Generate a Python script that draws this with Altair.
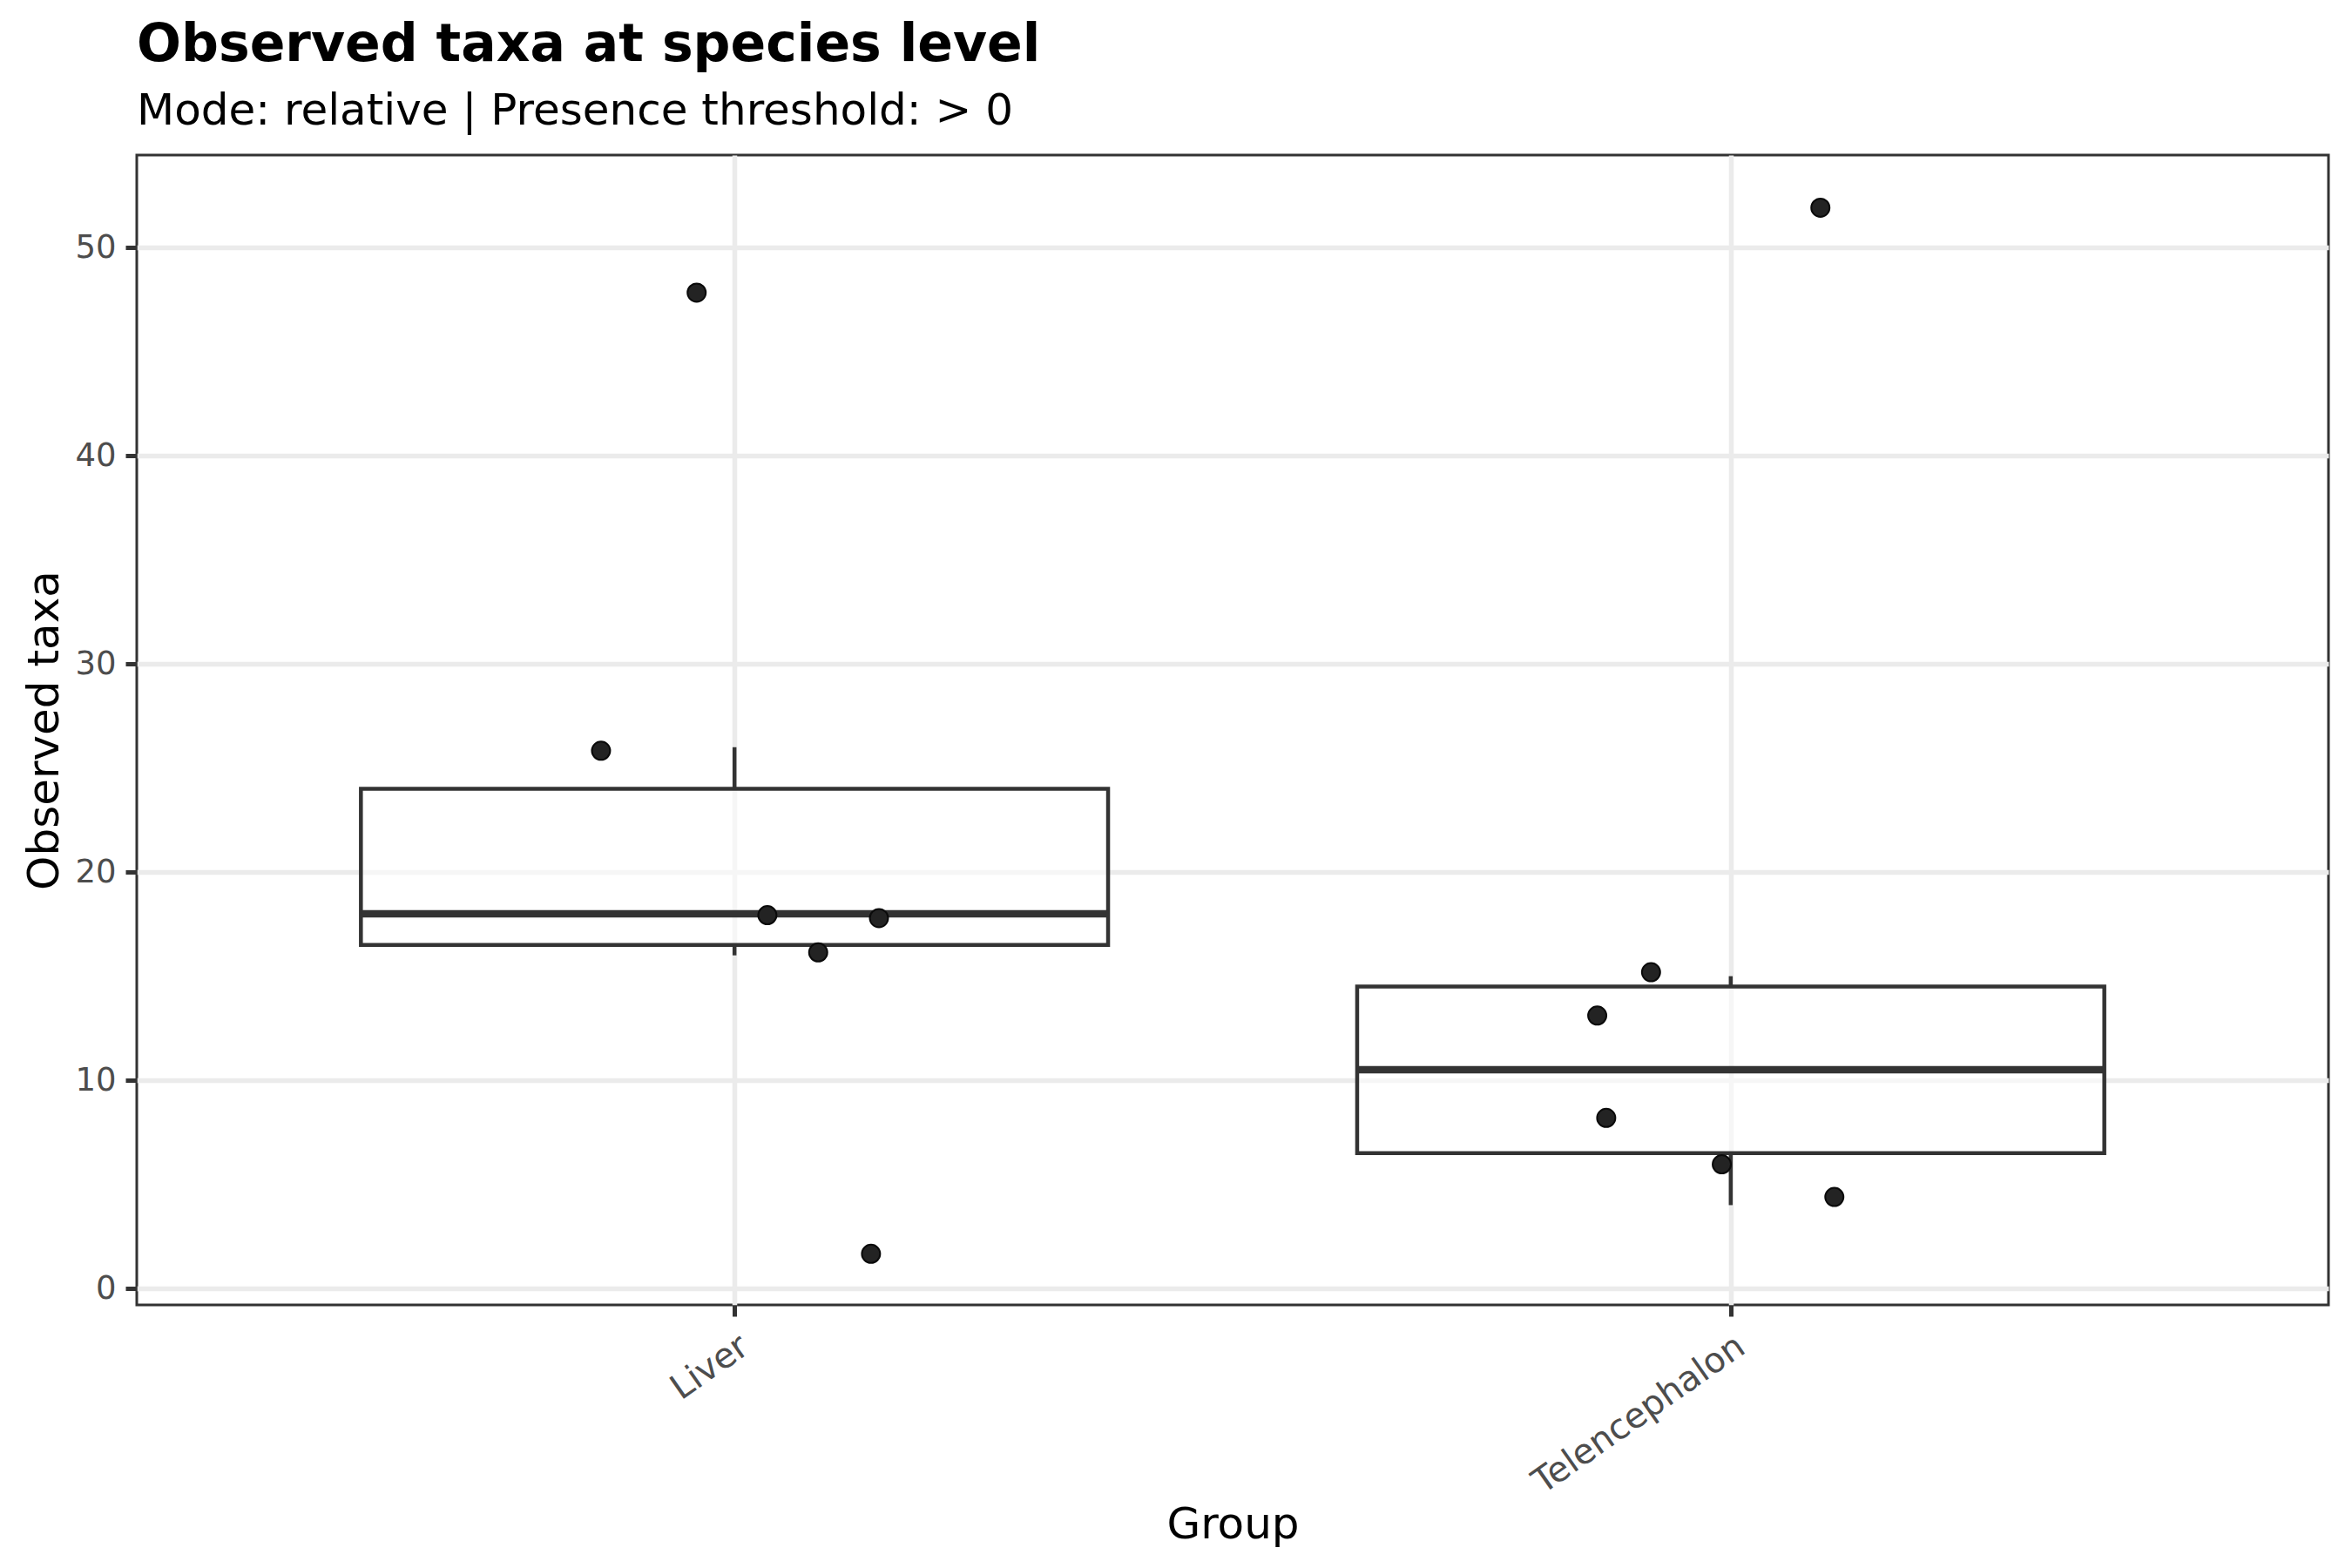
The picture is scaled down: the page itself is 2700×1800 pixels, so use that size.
import altair as alt
import numpy as np
import pandas as pd

# ---- data ----
groups = ["Liver", "Telencephalon"]
liver_obs = [48, 26, 18, 18, 16, 2]
tel_obs = [52, 15, 13, 8, 6, 4]
# jitter (x in category units, y in data units)
liver_jx = [-0.038, -0.134, 0.033, 0.145, 0.084, 0.137]
liver_jy = [-0.16, -0.17, -0.07, -0.21, 0.14, -0.34]
tel_jx = [0.090, -0.080, -0.134, -0.125, -0.009, 0.104]
tel_jy = [-0.08, 0.19, 0.11, 0.19, -0.04, 0.39]
y_ticks = [0, 10, 20, 30, 40, 50]

FONT = "DejaVu Sans"
W, H = 2516, 1320

obs = {"Liver": liver_obs, "Telencephalon": tel_obs}
jx = {"Liver": liver_jx, "Telencephalon": tel_jx}
jy = {"Liver": liver_jy, "Telencephalon": tel_jy}

pts_rows = []
box_rows = []
for i, g in enumerate(groups, start=1):
    v = np.array(obs[g], dtype=float)
    for val, dx, dy in zip(obs[g], jx[g], jy[g]):
        pts_rows.append({"group": g, "idx": i, "obs": val, "jx": dx, "jy": dy})
    q1, med, q3 = np.percentile(v, [25, 50, 75])
    iqr = q3 - q1
    lo = v[v >= q1 - 1.5 * iqr].min()
    hi = v[v <= q3 + 1.5 * iqr].max()
    box_rows.append({"group": g, "idx": i, "q1": q1, "med": med, "q3": q3,
                     "lo": lo, "hi": hi})

pts = pd.DataFrame(pts_rows)
box = pd.DataFrame(box_rows)

lab_expr = " : ".join(
    [f"datum.value == {i} ? '{g}'" for i, g in enumerate(groups, start=1)]
) + " : ''"

x_scale = alt.Scale(domain=[0.4, 2.6], nice=False, zero=False)
y_scale = alt.Scale(domain=[-0.795, 54.45], nice=False, zero=False)

x_axis = alt.Axis(
    title="Group", values=[1, 2], labelExpr=lab_expr,
    labelAngle=-35, labelAlign="right", labelBaseline="top", labelLimit=0,
    labelPadding=14, labelFontSize=40, labelColor="#4D4D4D", labelFont=FONT,
    titleFont=FONT, titleFontSize=50, titleFontWeight="normal", titleColor="#000000",
    titleX=W / 2, titleY=267, titleBaseline="alphabetic", titleAnchor="middle",
    tickColor="#333333", tickWidth=5, tickSize=13,
    grid=True, gridColor="#EBEBEB", gridWidth=5.5, domain=False,
)
y_axis = alt.Axis(
    title="Observed taxa", values=y_ticks,
    labelPadding=11, labelFontSize=37, labelColor="#4D4D4D", labelFont=FONT,
    titleFont=FONT, titleFontSize=50, titleFontWeight="normal", titleColor="#000000",
    titleX=-91, titleY=H / 2, titleAngle=-90, titleBaseline="alphabetic",
    titleAlign="center",
    tickColor="#333333", tickWidth=5, tickSize=13,
    grid=True, gridColor="#EBEBEB", gridWidth=5.5, domain=False,
)

base_box = alt.Chart(box).transform_calculate(
    xl="datum.idx - 0.375", xr="datum.idx + 0.375"
)

whisk_lo = base_box.mark_rule(color="#333333", strokeWidth=4.5).encode(
    x=alt.X("idx:Q", scale=x_scale, axis=x_axis),
    y=alt.Y("lo:Q", scale=y_scale, axis=y_axis),
    y2="q1:Q",
)
whisk_hi = base_box.mark_rule(color="#333333", strokeWidth=4.5).encode(
    x="idx:Q", y="q3:Q", y2="hi:Q",
)
rect = base_box.mark_rect(
    fill="#FFFFFF", fillOpacity=0.55, stroke="#333333", strokeWidth=4.5
).encode(x="xl:Q", x2="xr:Q", y="q1:Q", y2="q3:Q")
median = base_box.mark_rule(color="#333333", strokeWidth=8.5).encode(
    x="xl:Q", x2="xr:Q", y="med:Q"
)

points = alt.Chart(pts).transform_calculate(
    px="datum.idx + datum.jx", py="datum.obs + datum.jy"
).mark_point(
    shape="circle", filled=True, size=440, fill="#232323", fillOpacity=1,
    stroke="#0A0A0A", strokeWidth=2, opacity=1
).encode(x="px:Q", y="py:Q")

chart = alt.layer(whisk_lo, whisk_hi, rect, median, points).properties(
    width=W, height=H,
    background="#FFFFFF",
    title=alt.TitleParams(
        text="Observed taxa at species level",
        subtitle="Mode: relative | Presence threshold: > 0",
        anchor="start", frame="group",
        font=FONT, fontSize=60, fontWeight="bold", color="#000000",
        subtitleFont=FONT, subtitleFontSize=50, subtitleColor="#000000",
        subtitlePadding=20, offset=24,
    ),
    autosize=alt.AutoSizeParams(type="none"),
    padding={"left": 157, "top": 178, "right": 27, "bottom": 302},
).configure_view(
    stroke="#333333", strokeWidth=3
)

chart.save("out.html", embed_options={"renderer": "svg", "actions": False})
